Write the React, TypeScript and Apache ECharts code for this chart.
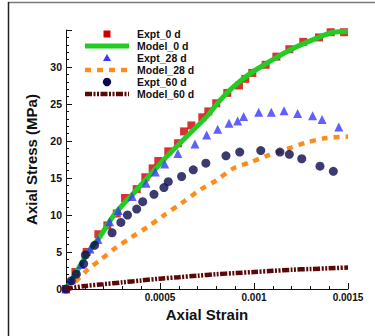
import React, { useEffect, useRef } from "react";
import * as echarts from "echarts";

const seriesNames = ["Expt_0 d", "Model_0 d", "Expt_28 d", "Model_28 d", "Expt_60 d", "Model_60 d"];

const expt0: number[][] = [
  [0, 0], [0.00005, 2.3], [0.00011, 5.0], [0.000172, 7.4], [0.00022, 8.6], [0.00027, 10.2],
  [0.000314, 12.3], [0.000376, 13.5], [0.000422, 15.1], [0.000461, 16.3], [0.000491, 17.3],
  [0.000544, 18.6], [0.000596, 19.7], [0.000628, 21.3], [0.000667, 22.1], [0.000725, 23.2],
  [0.000757, 24.0], [0.000799, 25.1], [0.000858, 26.5], [0.00092, 27.5], [0.000954, 28.4],
  [0.000991, 29.2], [0.001062, 30.3], [0.001119, 31.4], [0.001188, 32.4], [0.001262, 33.4],
  [0.001346, 34.0], [0.001408, 34.7], [0.001479, 34.7],
];

const model0: number[][] = [
  [0, 0], [0.00003, 1.2], [0.00011, 4.6], [0.000181, 7.1], [0.000261, 10.2], [0.000358, 12.9],
  [0.000447, 15.4], [0.000536, 17.9], [0.000642, 20.6], [0.000748, 23.3], [0.000819, 25.5],
  [0.00089, 27.3], [0.000979, 29.1], [0.001068, 30.5], [0.001191, 32.3], [0.001334, 33.9],
  [0.001422, 34.7], [0.0015, 34.8],
];

const expt28: number[][] = [
  [0, 0], [0.00003, 1.2], [0.00008, 3.3], [0.000128, 5.4], [0.00017, 6.7], [0.000232, 9.1],
  [0.000278, 10.6], [0.000352, 12.5], [0.000426, 14.3], [0.000475, 15.8], [0.000525, 16.9],
  [0.000595, 18.3], [0.000686, 19.6], [0.000748, 20.8], [0.000807, 21.6], [0.000867, 22.4],
  [0.000913, 22.7], [0.000945, 23.3], [0.001025, 23.9], [0.001092, 23.9], [0.00116, 24.1],
  [0.001232, 23.7], [0.001312, 23.4], [0.001362, 22.9], [0.001451, 21.9],
];

const model28: number[][] = [
  [0, 0], [0.000021, 0.3], [0.000119, 2.7], [0.000181, 3.9], [0.000261, 5.5], [0.000349, 7.0],
  [0.000429, 8.3], [0.000518, 9.9], [0.000615, 11.6], [0.000713, 13.4], [0.000801, 14.7],
  [0.00089, 16.3], [0.000979, 17.1], [0.001068, 18.0], [0.001174, 18.9], [0.00128, 19.8],
  [0.001387, 20.4], [0.0015, 20.6],
];

const expt60: number[][] = [
  [0, 0], [0.000028, 1.1], [0.000055, 2.0], [0.000094, 3.4], [0.000103, 4.6], [0.000152, 5.9],
  [0.000245, 7.6], [0.000292, 9.0], [0.000327, 10.0], [0.000376, 10.8], [0.000408, 11.8],
  [0.000468, 12.8], [0.000521, 13.7], [0.000544, 14.5], [0.000615, 15.2], [0.000677, 16.1],
  [0.000744, 17.0], [0.000851, 18.0], [0.000924, 18.5], [0.001036, 18.7], [0.001138, 18.5],
  [0.001188, 18.2], [0.001254, 17.6], [0.001351, 16.6], [0.001422, 15.9],
];

const model60: number[][] = [
  [0, 0], [0.0001, 0.4], [0.0002, 0.65], [0.0003, 0.9], [0.0004, 1.15], [0.0005, 1.4],
  [0.0006, 1.6], [0.0007, 1.8], [0.0008, 2.0], [0.0009, 2.15], [0.001, 2.3], [0.0011, 2.45],
  [0.0012, 2.6], [0.0013, 2.7], [0.0014, 2.8], [0.0015, 2.9],
];

const xTickLabels = ["0.0005", "0.001", "0.0015"];
const yTickLabels = ["0", "5", "10", "15", "20", "25", "30"];

const COLORS = {
  red: "#d00000",
  green: "#22cc22",
  blue: "#3838ff",
  orange: "#ff8c1a",
  navy: "#0a0a4e",
  maroon: "#5a0808",
};

const FONT = "'Liberation Sans', Arial, Helvetica, sans-serif";

export default function App() {
  const ref = useRef<HTMLDivElement>(null);

  useEffect(() => {
    if (!ref.current) return;
    const chart = echarts.init(ref.current, null, { renderer: "svg" });

    const lx0 = 85;
    const lx1 = 129;
    const lcx = 107;
    const ltx = 137;
    const rowY = [34, 46, 58, 70, 82, 94];

    const legendGraphics: any[] = [];
    legendGraphics.push({ type: "rect", shape: { x: lcx - 3.5, y: rowY[0] - 3.5, width: 7, height: 7 }, style: { fill: COLORS.red } });
    legendGraphics.push({ type: "line", shape: { x1: lx0, y1: rowY[1], x2: lx1, y2: rowY[1] }, style: { stroke: COLORS.green, lineWidth: 5 } });
    legendGraphics.push({ type: "polygon", shape: { points: [[lcx, rowY[2] - 4], [lcx + 4, rowY[2] + 3], [lcx - 4, rowY[2] + 3]] }, style: { fill: COLORS.blue } });
    legendGraphics.push({ type: "line", shape: { x1: lx0, y1: rowY[3], x2: lx1, y2: rowY[3] }, style: { stroke: COLORS.orange, lineWidth: 4.5, lineDash: [6, 6] } });
    legendGraphics.push({ type: "circle", shape: { cx: lcx, cy: rowY[4], r: 4.2 }, style: { fill: COLORS.navy } });
    legendGraphics.push({ type: "line", shape: { x1: lx0, y1: rowY[5], x2: lx1, y2: rowY[5] }, style: { stroke: COLORS.maroon, lineWidth: 4.5, lineDash: [7, 1.5, 2, 1.5, 2, 1.5] } });
    seriesNames.forEach((n, i) => {
      legendGraphics.push({
        type: "text",
        x: ltx,
        y: rowY[i],
        style: { text: n, fill: "#111", font: `bold 10.5px ${FONT}`, textVerticalAlign: "middle", textAlign: "left" },
      });
    });

    const option: any = {
      animation: false,
      backgroundColor: "#ffffff",
      grid: { left: 66, right: 27, top: 30, bottom: 47, containLabel: false },
      xAxis: {
        type: "value",
        min: 0,
        max: 0.0015,
        interval: 0.0005,
        name: "Axial Strain",
        nameLocation: "middle",
        nameGap: 16,
        nameTextStyle: { fontFamily: FONT, fontWeight: "bold", fontSize: 15, color: "#111", verticalAlign: "top" },
        axisLine: { show: true, onZero: false, lineStyle: { color: "#111", width: 1 } },
        axisTick: { show: true, inside: true, length: 6, lineStyle: { color: "#111" } },
        minorTick: { show: true, splitNumber: 5, length: 3, lineStyle: { color: "#111" } },
        splitLine: { show: false },
        minorSplitLine: { show: false },
        axisLabel: {
          margin: 3,
          fontFamily: FONT,
          fontWeight: "bold",
          fontSize: 10,
          color: "#111",
          showMaxLabel: true,
          showMinLabel: true,
          formatter: (v: number) => {
            const idx = Math.round(v / 0.0005) - 1;
            return idx >= 0 && idx < xTickLabels.length ? xTickLabels[idx] : "";
          },
        },
      },
      yAxis: {
        type: "value",
        min: 0,
        max: 35,
        interval: 5,
        name: "Axial Stress (MPa)",
        nameLocation: "middle",
        nameGap: 19,
        nameTextStyle: { fontFamily: FONT, fontWeight: "bold", fontSize: 15, color: "#111" },
        axisLine: { show: true, onZero: false, lineStyle: { color: "#111", width: 1 } },
        axisTick: { show: true, inside: true, length: 6, lineStyle: { color: "#111" } },
        minorTick: { show: true, splitNumber: 5, length: 3, lineStyle: { color: "#111" } },
        splitLine: { show: false },
        minorSplitLine: { show: false },
        axisLabel: {
          margin: 4,
          fontFamily: FONT,
          fontWeight: "bold",
          fontSize: 10.5,
          color: "#111",
          showMaxLabel: true,
          formatter: (v: number) => {
            const idx = Math.round(v / 5);
            return idx < yTickLabels.length ? yTickLabels[idx] : "";
          },
        },
      },
      series: [
        {
          name: seriesNames[0], type: "scatter", data: expt0, symbol: "rect", symbolSize: 8,
          itemStyle: { color: COLORS.red }, z: 2,
        },
        {
          name: seriesNames[1], type: "line", data: model0, showSymbol: false, symbol: "none", smooth: 0.3,
          lineStyle: { color: COLORS.green, width: 5 }, z: 3,
        },
        {
          name: seriesNames[2], type: "scatter", data: expt28, symbol: "triangle", symbolSize: 9,
          itemStyle: { color: COLORS.blue }, z: 4,
        },
        {
          name: seriesNames[3], type: "line", data: model28, showSymbol: false, symbol: "none", smooth: 0.3,
          lineStyle: { color: COLORS.orange, width: 4.5, type: [6, 6] }, z: 5,
        },
        {
          name: seriesNames[4], type: "scatter", data: expt60, symbol: "circle", symbolSize: 9,
          itemStyle: { color: COLORS.navy }, z: 6,
        },
        {
          name: seriesNames[5], type: "line", data: model60, showSymbol: false, symbol: "none", smooth: 0.3,
          lineStyle: { color: COLORS.maroon, width: 4.5, type: [7, 1.5, 2, 1.5, 2, 1.5] }, z: 7,
        },
      ],
      graphic: [
        { type: "line", shape: { x1: 8, y1: 2.5, x2: 375, y2: 2.5 }, style: { stroke: "#7a7a7a", lineWidth: 1.5 }, z: 100 },
        { type: "line", shape: { x1: 8.5, y1: 2, x2: 8.5, y2: 336 }, style: { stroke: "#222", lineWidth: 1.5 }, z: 100 },
        ...legendGraphics.map((g) => ({ ...g, z: 100 })),
      ],
    };

    chart.setOption(option);
    return () => chart.dispose();
  }, []);

  return (
    <div
      ref={ref}
      style={{ position: "fixed", left: 0, top: 0, width: 375, height: 336, background: "#fff" }}
    />
  );
}
